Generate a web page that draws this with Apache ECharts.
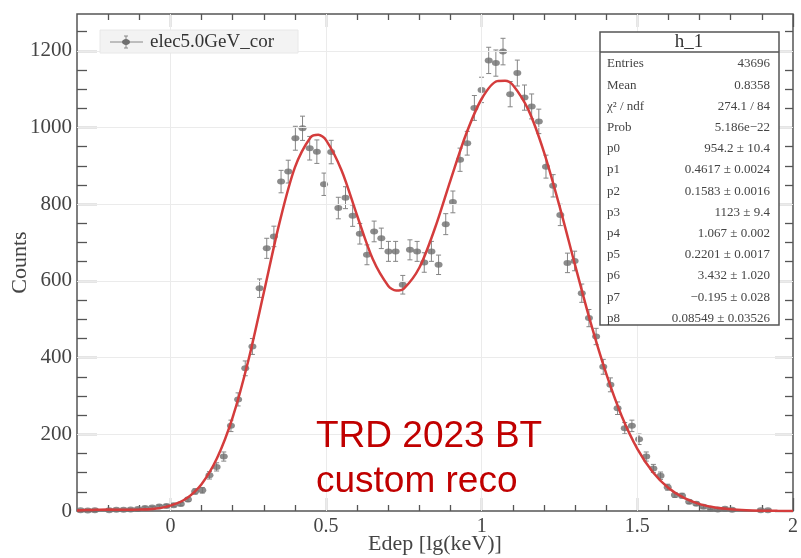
<!DOCTYPE html>
<html>
<head>
<meta charset="utf-8">
<title>h_1</title>
<script src="https://cdn.jsdelivr.net/npm/echarts@6.0.0/dist/echarts.min.js"></script>
<style>
  html, body { margin: 0; padding: 0; background: #fff; }
  #chart { width: 801px; height: 558px; }
</style>
</head>
<body>
<div id="chart"></div>
<script>
// histogram binning: 100 bins on [-0.3, 2.0]
const binLow = -0.3;
const binWidth = 0.023;

// bin contents (null = empty bin, not drawn)
const counts = [
  2, 1, 2, null, 2, 3, 3, 4, 5, 8,
  9, 12, 13, 15, 18, 30, 51, 54, 93, 115,
  142, 222, 291, 372, 429, 581, 685, 716, 859, 885,
  972, 998, 946, 937, 852, 936, 790, 817, 770, 723,
  668, 729, 711, 677, 677, 590, 681, 677, 648, 677,
  642, 748, 806, 916, 959, 1051, 1098, 1175, 1168, 1198,
  1087, 1142, 1078, 1055, 1016, 898, 848, 772, 647, 652,
  568, 503, 455, 376, 329, 268, 216, 222, 187, 142,
  111, 92, 62, 42, 40, 24, 19, 11, 6, 4,
  6, 3, null, null, null, 2, 2, null, null, null
];

// fit curve
const fitX = [-0.3, -0.25, -0.2, -0.15, -0.1, -0.05, 0, 0.05, 0.1, 0.15,
  0.2, 0.25, 0.3, 0.35, 0.4, 0.45, 0.475, 0.5, 0.55, 0.6,
  0.65, 0.7, 0.725, 0.75, 0.8, 0.85, 0.9, 0.95, 1.0, 1.05,
  1.075, 1.1, 1.15, 1.2, 1.25, 1.3, 1.35, 1.4, 1.45, 1.5,
  1.55, 1.6, 1.65, 1.7, 1.75, 1.8, 1.85, 1.9, 1.95, 2.0];
const fitY = [1.6, 2.8, 3.6, 3.5, 3.6, 5.9, 14, 32, 70, 138,
  244, 391, 569, 750, 896, 974, 981, 967, 888, 770,
  657, 587, 575, 580, 635, 738, 863, 983, 1075, 1121,
  1122, 1111, 1046, 936, 795, 641, 491, 358, 247, 162,
  101, 60, 34, 18, 9, 4.4, 2, 0.9, 0.4, 0.1];

// axis ticks
const xMajorTicks = [0, 0.5, 1, 1.5, 2];
const xMinorTicks = [-0.2, -0.1, 0.1, 0.2, 0.3, 0.4, 0.6, 0.7, 0.8, 0.9,
  1.1, 1.2, 1.3, 1.4, 1.6, 1.7, 1.8, 1.9];
const yMajorTicks = [0, 200, 400, 600, 800, 1000, 1200];
const yMinorTicks = [50, 100, 150, 250, 300, 350, 450, 500, 550, 650, 700, 750,
  850, 900, 950, 1050, 1100, 1150, 1250];

// stats box
const statTitle = 'h_1';
const statLabels = ['Entries', 'Mean', 'χ² / ndf', 'Prob', 'p0', 'p1', 'p2', 'p3', 'p4', 'p5', 'p6', 'p7', 'p8'];
const statValues = ['43696', '0.8358', '274.1 / 84', '5.186e\u221222', '954.2 ± 10.4',
  '0.4617 ± 0.0024', '0.1583 ± 0.0016', '1123 ± 9.4', '1.067 ± 0.002',
  '0.2201 ± 0.0017', '3.432 ± 1.020', '\u22120.195 ± 0.028', '0.08549 ± 0.03526'];

const legendName = 'elec5.0GeV_cor';
const noteLines = ['TRD 2023 BT', 'custom reco'];

const SERIF = '"Liberation Serif", "DejaVu Serif", serif';
const AXIS_COLOR = '#555';
const POINT_COLOR = '#6f6f6f';
const FIT_COLOR = '#d43c3c';

// points [x, y, err]
const points = [];
counts.forEach((c, i) => {
  if (c == null) return;
  points.push([binLow + binWidth * (i + 0.5), c, Math.sqrt(c)]);
});

const X_MIN = -0.3, X_MAX = 2, Y_MIN = 0, Y_MAX = 1296;

function xAxisOf(pos, ticks, len, withLabel) {
  const ax = {
    type: 'value', position: pos, min: X_MIN, max: X_MAX,
    axisLine: { show: false, onZero: false },
    splitLine: { show: false },
    axisTick: { show: true, inside: true, length: len, customValues: ticks,
      lineStyle: { color: AXIS_COLOR, width: 1.3 } },
    axisLabel: { show: false },
  };
  if (withLabel) {
    ax.axisLabel = { show: true, customValues: ticks, margin: 6,
      formatter: v => String(v),
      fontFamily: SERIF, fontSize: 20, color: '#444' };
    ax.name = 'Edep [lg(keV)]';
    ax.nameLocation = 'middle';
    ax.nameGap = 22;
    ax.nameMoveOverlap = false;
    ax.nameTextStyle = { fontFamily: SERIF, fontSize: 22, color: '#444' };
  }
  return ax;
}

function yAxisOf(pos, ticks, len, withLabel) {
  const ax = {
    type: 'value', position: pos, min: Y_MIN, max: Y_MAX,
    axisLine: { show: false, onZero: false },
    splitLine: { show: false },
    axisTick: { show: true, inside: true, length: len, customValues: ticks,
      lineStyle: { color: AXIS_COLOR, width: 1.3 } },
    axisLabel: { show: false },
  };
  if (withLabel) {
    ax.axisLabel = { show: true, customValues: ticks, margin: 5,
      formatter: v => String(v),
      fontFamily: SERIF, fontSize: 21, color: '#444' };
    ax.name = 'Counts';
    ax.nameLocation = 'middle';
    ax.nameGap = 46;
    ax.nameMoveOverlap = false;
    ax.nameTextStyle = { fontFamily: SERIF, fontSize: 22, color: '#444' };
  }
  return ax;
}

// legend + stats box + note, as graphics (absolute pixel coordinates)
const graphics = [];
const Z_TOP = 100;

// legend
graphics.push({
  type: 'group', z: Z_TOP,
  children: [
    { type: 'rect', z: Z_TOP, shape: { x: 100, y: 30, width: 198, height: 23 },
      style: { fill: '#f3f3f3', stroke: '#e8e8e8', lineWidth: 1 } },
    { type: 'line', z: Z_TOP + 1, shape: { x1: 110, y1: 42, x2: 143, y2: 42 },
      style: { stroke: '#888', lineWidth: 1 } },
    { type: 'line', z: Z_TOP + 1, shape: { x1: 126, y1: 36, x2: 126, y2: 48 },
      style: { stroke: '#888', lineWidth: 1 } },
    { type: 'line', z: Z_TOP + 1, shape: { x1: 124, y1: 36, x2: 128, y2: 36 },
      style: { stroke: '#888', lineWidth: 1 } },
    { type: 'line', z: Z_TOP + 1, shape: { x1: 124, y1: 48, x2: 128, y2: 48 },
      style: { stroke: '#888', lineWidth: 1 } },
    { type: 'ellipse', z: Z_TOP + 2, shape: { cx: 126, cy: 42, rx: 4, ry: 3 },
      style: { fill: POINT_COLOR } },
    { type: 'text', z: Z_TOP + 2, x: 150, y: 42,
      style: { text: legendName, font: '19px ' + SERIF, fill: '#333',
        verticalAlign: 'middle', align: 'left' } },
  ],
});

// stats box
const statChildren = [
  { type: 'rect', z: Z_TOP, shape: { x: 600, y: 32, width: 179, height: 293 },
    style: { fill: '#fff', stroke: '#555', lineWidth: 1.5 } },
  { type: 'line', z: Z_TOP + 1, shape: { x1: 600, y1: 52, x2: 779, y2: 52 },
    style: { stroke: '#555', lineWidth: 1.5 } },
  { type: 'text', z: Z_TOP + 1, x: 689, y: 42,
    style: { text: statTitle, font: '19px ' + SERIF, fill: '#333',
      align: 'center', verticalAlign: 'middle' } },
];
statLabels.forEach((lab, i) => {
  const y = 64 + i * 21.2;
  statChildren.push({ type: 'text', z: Z_TOP + 1, x: 607, y: y,
    style: { text: lab, font: '13px ' + SERIF, fill: '#444', align: 'left', verticalAlign: 'middle' } });
  statChildren.push({ type: 'text', z: Z_TOP + 1, x: 770, y: y,
    style: { text: statValues[i], font: '13px ' + SERIF, fill: '#444', align: 'right', verticalAlign: 'middle' } });
});
graphics.push({ type: 'group', z: Z_TOP, children: statChildren });

// red note
graphics.push({
  type: 'group', z: Z_TOP + 10,
  children: noteLines.map((t, i) => ({
    type: 'text', z: Z_TOP + 10, x: 316, y: 437 + i * 45,
    style: { text: t, font: '37px "Liberation Sans", Arial, sans-serif', fill: '#c00000',
      align: 'left', verticalAlign: 'middle' },
  })),
});

const option = {
  animation: false,
  backgroundColor: '#fff',
  grid: { left: 77, right: 8, top: 14, bottom: 47, show: true, containLabel: false,
    outerBoundsMode: 'none',
    borderColor: AXIS_COLOR, borderWidth: 1.5, backgroundColor: '#fff' },
  xAxis: [
    xAxisOf('bottom', xMajorTicks, 13, true),
    xAxisOf('bottom', xMinorTicks, 6, false),
    xAxisOf('top', xMajorTicks, 13, false),
    xAxisOf('top', xMinorTicks, 6, false),
  ],
  yAxis: [
    yAxisOf('left', yMajorTicks, 20, true),
    yAxisOf('left', yMinorTicks, 10, false),
    yAxisOf('right', yMajorTicks, 18, false),
    yAxisOf('right', yMinorTicks, 8, false),
  ],
  series: [
    // grid lines
    {
      type: 'line', data: [], z: 1, silent: true,
      markLine: {
        silent: true, symbol: 'none', animation: false,
        label: { show: false },
        lineStyle: { color: '#ebebeb', width: 1, type: 'solid' },
        data: xMajorTicks.filter(v => v > X_MIN && v < X_MAX).map(v => ({ xAxis: v }))
          .concat(yMajorTicks.filter(v => v > Y_MIN).map(v => ({ yAxis: v }))),
      },
    },
    // error bars
    {
      type: 'custom', z: 3, silent: true,
      data: points,
      renderItem(params, api) {
        const x = api.value(0), y = api.value(1), e = api.value(2);
        const top = api.coord([x, y + e]);
        const bot = api.coord([x, y - e]);
        const st = { stroke: '#858585', lineWidth: 1 };
        return {
          type: 'group',
          children: [
            { type: 'line', shape: { x1: top[0], y1: top[1], x2: bot[0], y2: bot[1] }, style: st },
            { type: 'line', shape: { x1: top[0] - 2.5, y1: top[1], x2: top[0] + 2.5, y2: top[1] }, style: st },
            { type: 'line', shape: { x1: bot[0] - 2.5, y1: bot[1], x2: bot[0] + 2.5, y2: bot[1] }, style: st },
          ],
        };
      },
    },
    // data points
    {
      type: 'scatter', name: legendName, z: 4,
      data: points.map(p => [p[0], p[1]]),
      symbol: 'circle', symbolSize: [8, 6],
      itemStyle: { color: POINT_COLOR },
    },
    // fit
    {
      type: 'line', z: 5,
      data: fitX.map((x, i) => [x, fitY[i]]),
      smooth: 0.3, showSymbol: false,
      lineStyle: { color: FIT_COLOR, width: 2.5 },
    },
  ],
  graphic: graphics,
};

const chart = echarts.init(document.getElementById('chart'));
chart.setOption(option);
window.addEventListener('resize', () => chart.resize());
</script>
</body>
</html>
